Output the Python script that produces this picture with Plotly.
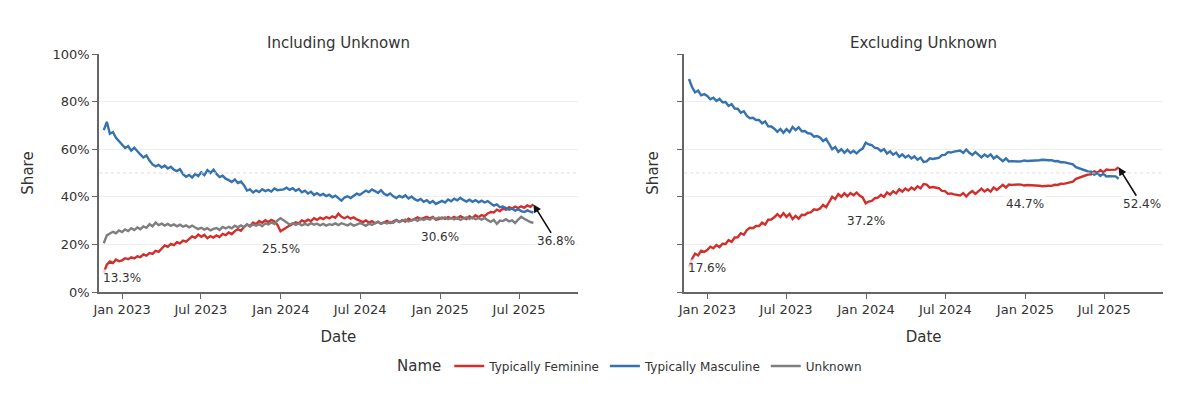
import pandas as pd
import plotly.graph_objects as go
from plotly.subplots import make_subplots

# ---- data (weekly, percent) ----
start_date = "2022-11-20"

feminine = [
    8.0, 11.5, 12.8, 12.2, 13.6, 12.9,
    13.3, 14.2, 13.8, 14.6, 14.1,
    15.0, 14.6, 15.8, 15.3,
    16.4, 16.0, 17.3, 16.9,
    18.4, 19.6, 19.0, 20.2, 19.7,
    20.9, 20.4, 21.6, 21.2,
    22.5, 23.4, 22.8, 24.1,
    23.2, 24.0, 22.6, 23.5, 22.9,
    23.8, 23.1, 24.4, 23.9,
    25.0, 24.3, 25.6, 26.4,
    25.7, 27.3, 28.4, 27.6, 29.2,
    28.5, 29.8, 29.1, 30.2,
    29.4, 30.3, 29.6, 28.2, 25.5,
    26.4, 27.2, 27.9, 28.6,
    29.3, 28.8, 30.1, 29.5,
    30.4, 29.8, 31.0, 30.3, 31.2,
    30.6, 31.5, 30.9, 31.8,
    31.2, 32.9, 31.6, 31.0,
    31.7, 30.8, 31.4, 30.5, 30.0,
    29.4, 30.1, 29.2, 29.8,
    28.9, 29.6, 28.7, 29.3,
    29.9, 29.0, 29.7, 30.3, 29.5,
    30.2, 29.6, 30.8, 30.1,
    30.7, 31.4, 30.6, 31.2,
    31.6, 30.9, 31.5, 30.4, 30.6,
    31.3, 30.7, 31.5, 30.9,
    31.6, 30.8, 31.9, 31.2,
    30.6, 31.8, 31.0, 32.2, 31.4,
    32.3, 31.9, 33.0, 33.6,
    33.4, 34.6, 34.0, 35.0,
    34.6, 35.6, 35.0, 35.9, 35.3,
    36.0, 35.4, 36.4, 35.8,
    36.8,
]

masculine = [
    68.0, 71.5, 66.5, 67.2, 64.8, 63.5,
    62.0, 60.5, 61.3, 59.4, 60.6,
    59.0, 57.8, 56.5, 57.4,
    55.2, 53.6, 52.8, 53.4,
    52.3, 53.1, 51.9, 52.6, 51.4,
    50.8, 51.6, 49.5, 48.4,
    49.2, 48.1, 49.6, 48.7,
    50.3, 49.1, 51.2, 50.0, 51.4,
    49.6, 48.3, 48.9, 47.6,
    47.0, 46.2, 47.3, 45.8,
    46.4, 44.9, 42.6, 43.1, 41.8,
    42.7, 42.0, 43.2, 42.4,
    42.9, 42.2, 43.5, 42.8, 43.0,
    43.1, 43.8, 42.9, 43.6,
    42.5, 43.3, 41.9, 42.6,
    41.4, 42.1, 40.8, 41.5, 40.6,
    41.2, 40.3, 40.9, 39.8,
    40.5, 39.6, 38.4, 39.7,
    40.2, 39.5, 40.6, 41.3, 40.8,
    41.9, 42.6, 42.0, 43.1,
    42.4, 41.6, 42.8, 41.3,
    40.6, 41.4, 40.2, 39.5, 40.4,
    39.8, 40.6, 39.3, 40.1,
    39.0, 38.4, 39.1, 37.9,
    38.6, 37.4, 38.2, 37.0, 37.8,
    38.3, 37.6, 38.9, 38.1,
    39.2, 38.5, 39.6, 38.7,
    38.0, 38.8, 37.9, 38.6, 37.7,
    38.4, 37.6, 38.2, 37.1,
    36.3, 36.8, 35.6, 35.9,
    35.4, 34.6, 35.0, 34.2, 34.8,
    34.0, 33.6, 34.3, 33.8,
    33.4,
]

unknown = [
    20.5, 23.8, 24.6, 25.3, 24.7, 25.9,
    25.2, 26.3, 25.6, 26.8, 26.0,
    27.1, 26.4, 27.6, 27.0,
    28.5, 27.6, 29.2, 28.1,
    28.7, 27.9, 28.6, 27.8, 28.4,
    27.6, 28.3, 27.5, 28.0,
    27.2, 27.9, 27.1, 26.4,
    27.0, 26.2, 26.8, 25.9, 26.5,
    26.9, 26.1, 27.3, 26.7,
    27.4, 26.8, 27.9, 27.2,
    28.0, 27.3, 28.4, 27.7, 28.3,
    27.9, 28.5, 27.6, 28.8,
    28.4, 29.2, 28.6, 30.1, 31.0,
    30.2, 29.1, 28.4, 28.9,
    28.2, 28.8, 28.0, 28.6,
    28.1, 28.9, 28.3, 28.7, 28.0,
    28.6, 27.9, 28.5, 28.2,
    28.8, 28.1, 28.9, 28.4,
    28.0, 28.7, 27.9, 28.3, 28.9,
    28.5, 27.8, 28.7, 28.2,
    28.9, 29.4, 28.6, 29.2,
    28.8, 29.5, 29.0, 30.1, 29.4,
    29.9, 30.4, 29.6, 30.2,
    30.5, 29.9, 30.8, 30.3,
    30.9, 30.4, 31.2, 30.7, 31.3,
    30.8, 31.4, 30.6, 31.1,
    30.5, 31.2, 30.3, 30.9,
    31.4, 30.7, 31.3, 30.6, 31.0,
    30.4, 31.1, 30.2, 29.5,
    30.3, 28.6, 30.0, 29.8,
    30.6, 29.7, 30.1, 29.0, 30.4,
    31.6, 30.8, 30.0, 29.4,
    29.1,
]

label_dates = ["2023-01-01", "2024-01-01", "2025-01-01"]
labels_including = [13.3, 25.5, 30.6]
labels_excluding = [17.6, 37.2, 44.7]
end_label_including = 36.8
end_label_excluding = 52.4

subplot_titles = ["Including Unknown", "Excluding Unknown"]
series_names = ["Typically Feminine", "Typically Masculine", "Unknown"]
colors = {"Typically Feminine": "#d12f2c", "Typically Masculine": "#3572b0", "Unknown": "#7f7f7f"}

tick_dates = ["2023-01-01", "2023-07-01", "2024-01-01", "2024-07-01", "2025-01-01", "2025-07-01"]
tick_text = ["Jan 2023", "Jul 2023", "Jan 2024", "Jul 2024", "Jan 2025", "Jul 2025"]

# ---- build ----
dates = pd.date_range(start_date, periods=len(feminine), freq="7D")
fem = pd.Series(feminine) / 100
masc = pd.Series(masculine) / 100
unk = pd.Series(unknown) / 100
fem_ex = fem / (fem + masc)
masc_ex = masc / (fem + masc)

FONT = "DejaVu Sans"
fig = make_subplots(rows=1, cols=2, shared_yaxes=True, horizontal_spacing=0.1,
                    subplot_titles=subplot_titles)

left = {"Typically Feminine": fem, "Typically Masculine": masc, "Unknown": unk}
right = {"Typically Feminine": fem_ex, "Typically Masculine": masc_ex}

for name in series_names:
    fig.add_trace(go.Scatter(x=dates, y=left[name], mode="lines", name=name,
                             legendgroup=name, line=dict(color=colors[name], width=2.4)),
                  row=1, col=1)
for name in series_names[:2]:
    fig.add_trace(go.Scatter(x=dates, y=right[name], mode="lines", name=name,
                             legendgroup=name, showlegend=False,
                             line=dict(color=colors[name], width=2.4)),
                  row=1, col=2)

for col in (1, 2):
    fig.add_hline(y=0.5, line=dict(color="#dddddd", width=1, dash="dot"), row=1, col=col)

ann_font = dict(family=FONT, size=12, color="#333333")
for col, labels, end_label, xref, yref in [
    (1, labels_including, end_label_including, "x", "y"),
    (2, labels_excluding, end_label_excluding, "x2", "y2"),
]:
    for d, v in zip(label_dates, labels):
        fig.add_annotation(x=d, y=v / 100, xref=xref, yref=yref, text=f"{v:.1f}%",
                           showarrow=False, yshift=-18, font=ann_font,
                           bgcolor="rgba(255,255,255,0.75)")
    fig.add_annotation(x=dates[-1], y=end_label / 100, xref=xref, yref=yref,
                       text=f"{end_label:.1f}%", showarrow=True, arrowhead=2,
                       arrowsize=1, arrowwidth=1.6, arrowcolor="#111111",
                       ax=23, ay=37, font=ann_font, bgcolor="rgba(255,255,255,0.75)")

axis_common = dict(showline=True, linecolor="#666666", linewidth=1.5,
                   ticks="outside", ticklen=5, tickcolor="#666666",
                   tickfont=dict(family=FONT, size=13, color="#333333"),
                   title_font=dict(family=FONT, size=15, color="#333333"))

for col in (1, 2):
    fig.update_xaxes(range=["2022-11-09", "2025-11-13"], tickvals=tick_dates, ticktext=tick_text,
                     showgrid=False, zeroline=False, title_text="Date", **axis_common,
                     row=1, col=col)
    fig.update_yaxes(range=[0, 1], tickvals=[0, 0.2, 0.4, 0.6, 0.8, 1.0], tickformat=".0%",
                     showgrid=True, gridcolor="#eeeeee", zeroline=False, title_text="Share",
                     **axis_common, row=1, col=col)

for a in fig.layout.annotations[:2]:
    a.font = dict(family=FONT, size=15, color="#333333")

fig.update_layout(
    width=1200, height=396,
    margin=dict(l=91, r=45, t=46, b=112),
    paper_bgcolor="white", plot_bgcolor="white",
    font=dict(family=FONT, size=12, color="#333333"),
    legend=dict(orientation="h", x=0.5, xanchor="center", y=-0.25, yanchor="top",
                title=dict(text="Name", font=dict(family=FONT, size=15)),
                font=dict(family=FONT, size=12)),
)

fig.write_html("out.html")
